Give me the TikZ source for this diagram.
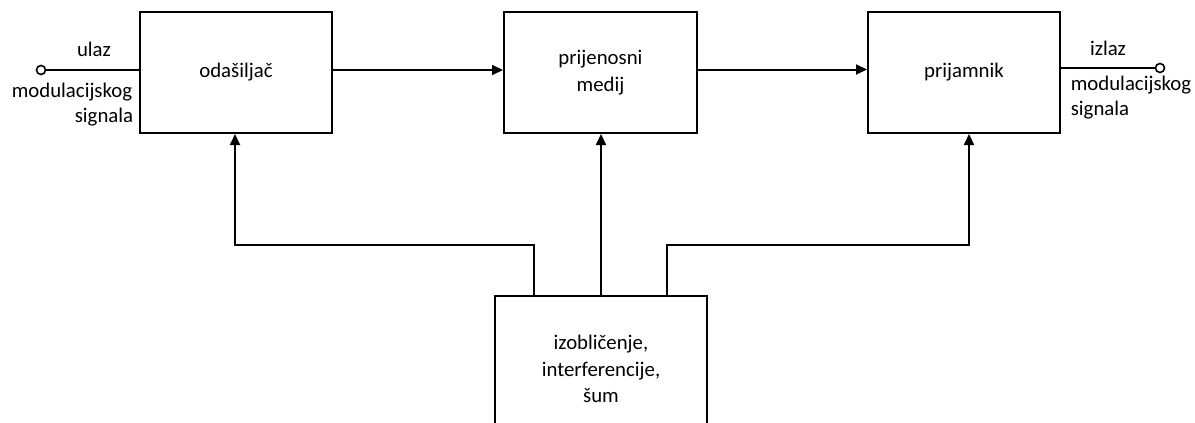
\documentclass[tikz,border=0pt]{standalone}
\usepackage{fontspec}
\setmainfont{Carlito}
\usetikzlibrary{arrows.meta,calc}
\begin{document}
\begin{tikzpicture}[x=1pt,y=-1pt,
  box/.style={draw,line width=2pt,rectangle,minimum width=192pt,minimum height=121pt,align=center,inner sep=0pt},
  wire/.style={line width=2pt},
  arr/.style={line width=2pt,-{Triangle[length=11pt,width=10pt]}},
  term/.style={circle,draw,line width=1.6pt,fill=white,inner sep=0pt,minimum size=9pt},
  lbl/.style={anchor=base,inner sep=0pt},
  font=\fontsize{20.8}{26.5}\selectfont]
\useasboundingbox (0,0) rectangle (1195,423);
\fill[white] (0,0) rectangle (1195,423);
\begin{scope}
\clip (0,0) rectangle (1195,423);
\node[box] (tx) at (236,72.5) {odašiljač};
\node[box,minimum width=193pt] (mx) at (600.5,72.5) {prijenosni\\medij};
\node[box] (rx) at (964,72.5) {prijamnik};
\node[box,minimum width=212pt,minimum height=146pt] (nz) at (601,369) {izobličenje,\\interferencije,\\šum};
\end{scope}
% input
\node[term] (inc) at (41,70) {};
\draw[wire] (inc) -- (inc -| tx.west);
\node[lbl] (l1) at (94,56) {ulaz};
\node[lbl] (l2) at (72,97) {modulacijskog};
\node[lbl] (l3) at (104,122) {signala};
% output
\node[term] (outc) at (1160,68) {};
\draw[wire] (outc -| rx.east) -- (outc);
\node[lbl] (r1) at (1108,55) {izlaz};
\node[lbl] (r2) at (1131,90) {modulacijskog};
\node[lbl] (r3) at (1100,115) {signala};
% forward path
\draw[arr] ([yshift=2.5pt]tx.east) -- ([yshift=2.5pt]mx.west);
\draw[arr] ([yshift=3pt]mx.east) -- ([yshift=3pt]rx.west);
% disturbances
\coordinate (nl) at (534,296);
\coordinate (nr) at (667,296);
\draw[arr] (nl) -- (534,245) -| ([xshift=-1pt]tx.south);
\draw[arr] (nz.north) -- (nz.north |- mx.south);
\draw[arr] (nr) -- (667,245) -| ([xshift=5pt]rx.south);
\end{tikzpicture}
\end{document}
